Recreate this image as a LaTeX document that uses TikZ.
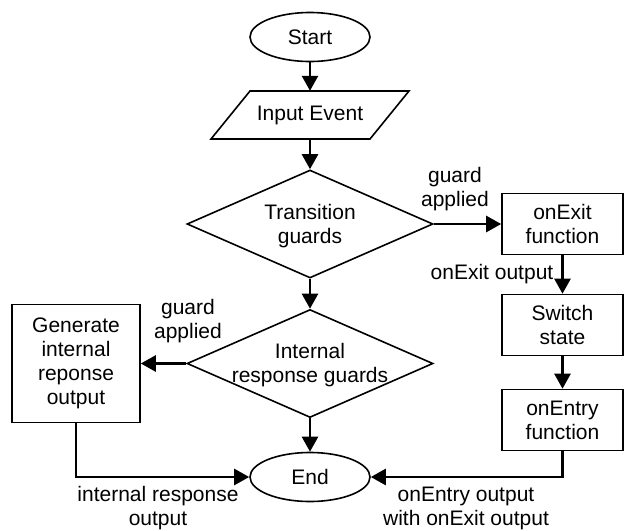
\documentclass[tikz,border=0pt]{standalone}
\usepackage{fontspec}
\setmainfont{Liberation Sans}
\usetikzlibrary{shapes.geometric,arrows.meta}
\tikzset{
  every node/.style={font=\fontsize{21}{24}\selectfont, align=center, inner sep=0pt},
  shp/.style={draw, line width=1.6pt},
  term/.style={shp, ellipse, minimum width=120pt, minimum height=49pt},
  proc/.style={shp, rectangle, minimum width=121pt, minimum height=61pt},
  dia/.style={shp, diamond, minimum width=246pt, minimum height=108pt},
  conn/.style={line width=2.6pt, -{Triangle[length=15pt,width=16pt]}},
  lbl/.style={}
}
\begin{document}
\begin{tikzpicture}[x=1pt,y=-1pt]
\useasboundingbox (0,0) rectangle (625,531);
% nodes
\node[term] (start) at (310,37) {Start};
\node[minimum width=159pt, minimum height=48pt] (input) at (310,115) {Input Event};
\draw[line width=1.6pt, line join=miter] (250,91) -- (409,91) -- (370,139) -- (211,139) -- cycle;
\node[dia] (d1) at (310,224) {};
\node (d1t) at (310,226) {Transition\\guards};
\node[dia] (d2) at (310,363.5) {};
\node (d2t) at (310,365) {Internal\\response guards};
\node[proc] (onexit) at (562.5,224) {onExit\\function};
\node[proc] (switch) at (562.5,325) {Switch\\state};
\node[proc] (onentry) at (562.5,420) {onEntry\\function};
\node[shp, rectangle, minimum width=128pt, minimum height=118pt] (gen) at (76,363.5) {Generate\\internal\\reponse\\output};
\node[term] (end) at (310,477) {End};
% labels
\node[lbl] (l1) at (455,189) {guard\\applied};
\node[lbl] (l2) at (188,321) {guard\\applied};
\node[lbl, anchor=base] (l3) at (492,279) {onExit output};
\node[lbl] (l4) at (158,508) {internal response\\output};
\node[lbl] (l5) at (466,508) {onEntry output\\with onExit output};
% connectors
\draw[conn] (start) -- (input);
\draw[conn] (input) -- (d1);
\draw[conn] (d1.east) -- (onexit.west);
\draw[conn] (onexit) -- (switch);
\draw[conn] (switch) -- (onentry);
\draw[conn] (d1) -- (d2);
\draw[conn] (d2.west) -- (gen.east);
\draw[conn] (d2) -- (end);
\draw[conn] (gen.south) |- (end.west);
\draw[conn] (onentry.south) |- (end.east);
\end{tikzpicture}
\end{document}
